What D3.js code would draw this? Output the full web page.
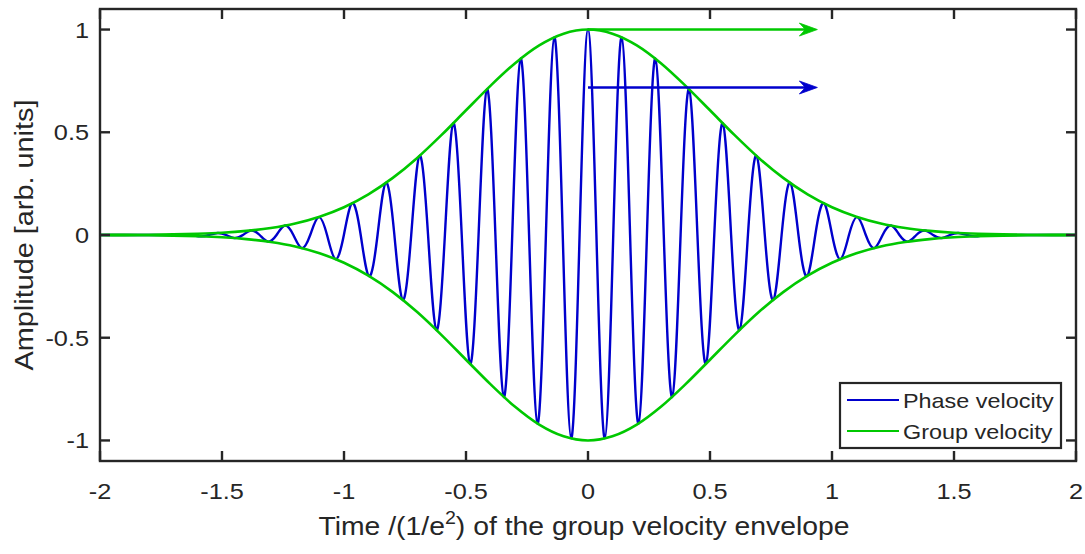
<!DOCTYPE html>
<html>
<head>
<meta charset="utf-8">
<script src="https://cdn.jsdelivr.net/npm/d3@7"></script>
<style>
  html, body { margin: 0; padding: 0; background: #fff; }
  svg { display: block; }
  text { font-family: "Liberation Sans", Arial, Helvetica, sans-serif; fill: #262626; }
</style>
</head>
<body>
<svg id="chart" width="1085" height="554"></svg>
<script>
// ---- data ----
const xTicks = [-2, -1.5, -1, -0.5, 0, 0.5, 1, 1.5, 2];
const xTickLabels = ["-2", "-1.5", "-1", "-0.5", "0", "0.5", "1", "1.5", "2"];
const yTicks = [-1, -0.5, 0, 0.5, 1];
const yTickLabels = ["-1", "-0.5", "0", "0.5", "1"];

// phase-velocity carrier: extrema and zero crossings
const phaseTime = [
  -2, -1.9, -1.8, -1.6905, -1.656, -1.6215, -1.587, -1.5525, -1.518, -1.4835,
  -1.449, -1.4145, -1.38, -1.3455, -1.311, -1.2765, -1.242, -1.2075, -1.173, -1.1385,
  -1.104, -1.0695, -1.035, -1.0005, -0.966, -0.9315, -0.897, -0.8625, -0.828, -0.7935,
  -0.759, -0.7245, -0.69, -0.6555, -0.621, -0.5865, -0.552, -0.5175, -0.483, -0.4485,
  -0.414, -0.3795, -0.345, -0.3105, -0.276, -0.2415, -0.207, -0.1725, -0.138, -0.1035,
  -0.069, -0.0345, 0,
  0.0345, 0.069, 0.1035, 0.138, 0.1725, 0.207, 0.2415, 0.276, 0.3105, 0.345,
  0.3795, 0.414, 0.4485, 0.483, 0.5175, 0.552, 0.5865, 0.621, 0.6555, 0.69,
  0.7245, 0.759, 0.7935, 0.828, 0.8625, 0.897, 0.9315, 0.966, 1.0005, 1.035,
  1.0695, 1.104, 1.1385, 1.173, 1.2075, 1.242, 1.2765, 1.311, 1.3455, 1.38,
  1.4145, 1.449, 1.4835, 1.518, 1.5525, 1.587, 1.6215, 1.656, 1.6905, 1.8, 1.9, 2
];
const phaseAmp = [
  0, 0, 0, 0, 0.0042, 0, -0.0065, 0, 0.010, 0,
  -0.015, 0, 0.022, 0, -0.032, 0, 0.046, 0, -0.064, 0,
  0.087, 0, -0.117, 0, 0.155, 0, -0.200, 0, 0.254, 0,
  -0.316, 0, 0.386, 0, -0.462, 0, 0.544, 0, -0.627, 0,
  0.710, 0, -0.788, 0, 0.859, 0, -0.918, 0, 0.963, 0,
  -0.990, 0, 1,
  0, -0.990, 0, 0.963, 0, -0.918, 0, 0.859, 0, -0.788,
  0, 0.710, 0, -0.627, 0, 0.544, 0, -0.462, 0, 0.386,
  0, -0.316, 0, 0.254, 0, -0.200, 0, 0.155, 0, -0.117,
  0, 0.087, 0, -0.064, 0, 0.046, 0, -0.032, 0, 0.022,
  0, -0.015, 0, 0.010, 0, -0.0065, 0, 0.0042, 0, 0, 0, 0
];

// group-velocity envelope
const envTime = [
  -2, -1.9, -1.8, -1.7, -1.6, -1.5, -1.4, -1.3, -1.2, -1.1,
  -1, -0.9, -0.8, -0.7, -0.6, -0.5, -0.4, -0.3, -0.2, -0.1, 0,
  0.1, 0.2, 0.3, 0.4, 0.5, 0.6, 0.7, 0.8, 0.9, 1,
  1.1, 1.2, 1.3, 1.4, 1.5, 1.6, 1.7, 1.8, 1.9, 2
];
const envUpper = [
  0.0003, 0.0007, 0.0015, 0.003, 0.006, 0.011, 0.020, 0.034, 0.056, 0.089,
  0.135, 0.198, 0.278, 0.375, 0.487, 0.607, 0.726, 0.835, 0.923, 0.980, 1,
  0.980, 0.923, 0.835, 0.726, 0.607, 0.487, 0.375, 0.278, 0.198, 0.135,
  0.089, 0.056, 0.034, 0.020, 0.011, 0.006, 0.003, 0.0015, 0.0007, 0.0003
];
const envLower = [
  -0.0003, -0.0007, -0.0015, -0.003, -0.006, -0.011, -0.020, -0.034, -0.056, -0.089,
  -0.135, -0.198, -0.278, -0.375, -0.487, -0.607, -0.726, -0.835, -0.923, -0.980, -1,
  -0.980, -0.923, -0.835, -0.726, -0.607, -0.487, -0.375, -0.278, -0.198, -0.135,
  -0.089, -0.056, -0.034, -0.020, -0.011, -0.006, -0.003, -0.0015, -0.0007, -0.0003
];

// annotation arrows
const arrowNames = ["group", "phase"];
const arrowY = [1, 0.718];
const arrowX0 = [0, 0];
const arrowX1 = [0.94, 0.94];

const seriesNames = ["Phase velocity", "Group velocity"];
const xLabel = "Time /(1/e";
const xLabelSup = "2";
const xLabelTail = ") of the group velocity envelope";
const yLabel = "Amplitude [arb. units]";

// ---- layout ----
const BLUE = "#0000cd", GREEN = "#00c800", AX = "#262626";
const SX = 1.15; // horizontal glyph stretch of the original rendering
const L = 100, R = 1076, T = 9, B = 461;
const svg = d3.select("#chart");

const x = d3.scaleLinear().domain([-2, 2]).range([L, R]);
const y = d3.scaleLinear().domain([-1.1, 1.1]).range([B, T]);

// blue carrier
const phasePts = phaseTime.map((t, i) => [t, phaseAmp[i]]);
const lineN = d3.line().x(d => x(d[0])).y(d => y(d[1])).curve(d3.curveNatural);
svg.append("path").datum(phasePts).attr("d", lineN)
  .attr("fill", "none").attr("stroke", BLUE).attr("stroke-width", 2.4)
  .attr("stroke-linejoin", "round");

// green envelopes
const lineM = d3.line().x(d => x(d[0])).y(d => y(d[1])).curve(d3.curveMonotoneX);
[envUpper, envLower].forEach(arr => {
  svg.append("path").datum(envTime.map((t, i) => [t, arr[i]])).attr("d", lineM)
    .attr("fill", "none").attr("stroke", GREEN).attr("stroke-width", 2.6);
});

// arrows
const arrowColors = [GREEN, BLUE];
arrowNames.forEach((n, i) => {
  const yy = y(arrowY[i]), xa = x(arrowX0[i]), xb = x(arrowX1[i]);
  svg.append("line").attr("x1", xa).attr("x2", xb - 11).attr("y1", yy).attr("y2", yy)
    .attr("stroke", arrowColors[i]).attr("stroke-width", 2.6);
  svg.append("path")
    .attr("d", `M${xb},${yy} L${xb - 18},${yy - 6.5} L${xb - 12},${yy} L${xb - 18},${yy + 6.5} Z`)
    .attr("fill", arrowColors[i]).attr("stroke", arrowColors[i]).attr("stroke-width", 0.8)
    .attr("stroke-linejoin", "miter");
});

// axes box
svg.append("rect").attr("x", L).attr("y", T).attr("width", R - L).attr("height", B - T)
  .attr("fill", "none").attr("stroke", AX).attr("stroke-width", 2.4);

// ticks (inward, all four sides)
const TL = 10;
xTicks.forEach(v => {
  const px = x(v);
  svg.append("line").attr("x1", px).attr("x2", px).attr("y1", B).attr("y2", B - TL).attr("stroke", AX).attr("stroke-width", 2.4);
  svg.append("line").attr("x1", px).attr("x2", px).attr("y1", T).attr("y2", T + TL).attr("stroke", AX).attr("stroke-width", 2.4);
});
yTicks.forEach(v => {
  const py = y(v);
  svg.append("line").attr("x1", L).attr("x2", L + TL).attr("y1", py).attr("y2", py).attr("stroke", AX).attr("stroke-width", 2.4);
  svg.append("line").attr("x1", R).attr("x2", R - TL).attr("y1", py).attr("y2", py).attr("stroke", AX).attr("stroke-width", 2.4);
});

// tick labels
xTicks.forEach((v, i) => {
  svg.append("text").attr("transform", `translate(${x(v)},499) scale(${SX},1)`)
    .attr("text-anchor", "middle").attr("font-size", 22).text(xTickLabels[i]);
});
yTicks.forEach((v, i) => {
  svg.append("text").attr("transform", `translate(89,${y(v) + 8}) scale(${SX},1)`)
    .attr("text-anchor", "end").attr("font-size", 22).text(yTickLabels[i]);
});

// axis labels
const xl = svg.append("text").attr("transform", `translate(${(L + R) / 2 - 4},535) scale(1.09,1)`)
  .attr("text-anchor", "middle").attr("font-size", 26);
xl.append("tspan").text(xLabel);
xl.append("tspan").attr("font-size", 18).attr("dy", -11).text(xLabelSup);
xl.append("tspan").attr("dy", 11).text(xLabelTail);

svg.append("text").attr("transform", `translate(33,${(T + B) / 2}) rotate(-90) scale(1.11,1)`)
  .attr("text-anchor", "middle").attr("font-size", 26).text(yLabel);

// legend
const lg = svg.append("g");
lg.append("rect").attr("x", 840).attr("y", 383).attr("width", 221).attr("height", 65)
  .attr("fill", "#fff").attr("stroke", AX).attr("stroke-width", 2.2);
const legY = [400, 431];
seriesNames.forEach((n, i) => {
  lg.append("line").attr("x1", 847).attr("x2", 899).attr("y1", legY[i]).attr("y2", legY[i])
    .attr("stroke", i === 0 ? BLUE : GREEN).attr("stroke-width", 2.2);
  lg.append("text").attr("transform", `translate(903,${legY[i] + 8}) scale(1.17,1)`)
    .attr("font-size", 20).text(n);
});
</script>
</body>
</html>
